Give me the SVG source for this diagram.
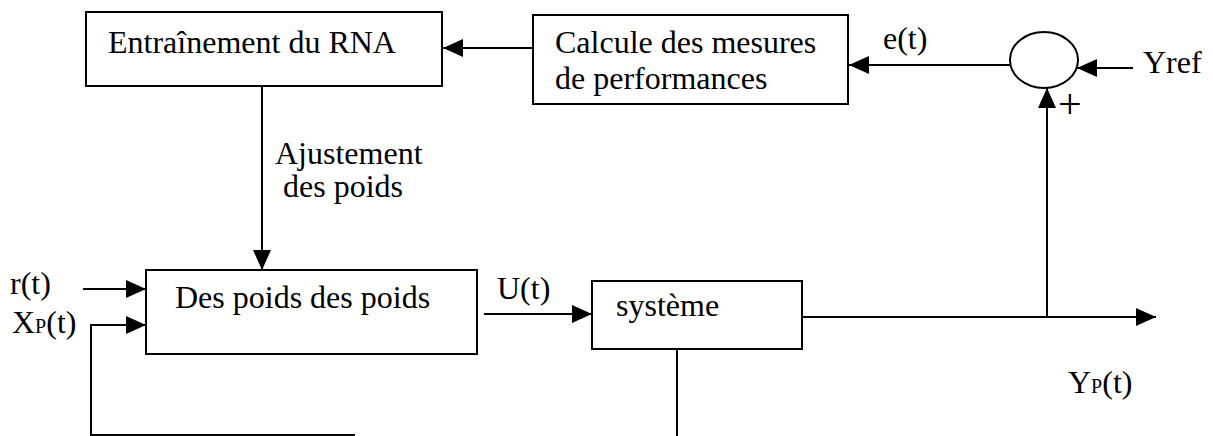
<svg xmlns="http://www.w3.org/2000/svg" width="1213" height="436" viewBox="0 0 1213 436">
<style>
.box{fill:#fff;stroke:#000;stroke-width:2}
.ln{fill:none;stroke:#000;stroke-width:2}
.t{font-family:"Liberation Serif","Times New Roman",serif;font-size:32px;fill:#000}
.s{font-size:20px}
.plus{font-size:42px}
</style>
<defs>
<marker id="ah" markerUnits="userSpaceOnUse" markerWidth="20" markerHeight="18" refX="20" refY="9" orient="auto">
<path d="M0,0 L20,9 L0,18 z" fill="#000"/>
</marker>
</defs>
<g id="connectors">
<line class="ln" x1="533" y1="48" x2="443" y2="48" marker-end="url(#ah)"/>
<line class="ln" x1="1010" y1="65" x2="849" y2="65" marker-end="url(#ah)"/>
<line class="ln" x1="1133" y1="68" x2="1077" y2="68" marker-end="url(#ah)"/>
<line class="ln" x1="262" y1="87" x2="262" y2="270" marker-end="url(#ah)"/>
<line class="ln" x1="83" y1="289" x2="146" y2="289" marker-end="url(#ah)"/>
<polyline class="ln" points="355,435 91,435 91,325 146,325" marker-end="url(#ah)"/>
<line class="ln" x1="677" y1="349" x2="677" y2="436"/>
<line class="ln" x1="484" y1="314" x2="592" y2="314" marker-end="url(#ah)"/>
<line class="ln" x1="802" y1="317" x2="1156" y2="317" marker-end="url(#ah)"/>
<line class="ln" x1="1047" y1="317" x2="1047" y2="88" marker-end="url(#ah)"/>
</g>
<g id="n-entrainement">
<rect class="box" x="86" y="12" width="356" height="74"/>
<text class="t" x="108" y="53">Entraînement du RNA</text>
</g>
<g id="n-calcule">
<rect class="box" x="533" y="15" width="315" height="89"/>
<text class="t" x="555" y="53">Calcule des mesures</text>
<text class="t" x="555" y="89">de performances</text>
</g>
<g id="n-sum">
<ellipse class="box" cx="1044" cy="60" rx="34" ry="28"/>
</g>
<g id="n-poids">
<rect class="box" x="146" y="270" width="331" height="84"/>
<text class="t" x="175" y="308">Des poids des poids</text>
</g>
<g id="n-systeme">
<rect class="box" x="592" y="281" width="210" height="68"/>
<text class="t" x="616" y="316">système</text>
</g>
<g id="labels">
<text class="t" x="883" y="49">e(t)</text>
<text class="t" x="1143" y="73">Yref</text>
<text class="t plus" x="1058" y="118">+</text>
<text class="t" x="275" y="164">Ajustement</text>
<text class="t" x="283" y="197">des poids</text>
<text class="t" x="10" y="294">r(t)</text>
<text class="t" x="12" y="333">X<tspan class="s">P</tspan>(t)</text>
<text class="t" x="497" y="299">U(t)</text>
<text class="t" x="1068" y="393">Y<tspan class="s">P</tspan>(t)</text>
</g>
</svg>
